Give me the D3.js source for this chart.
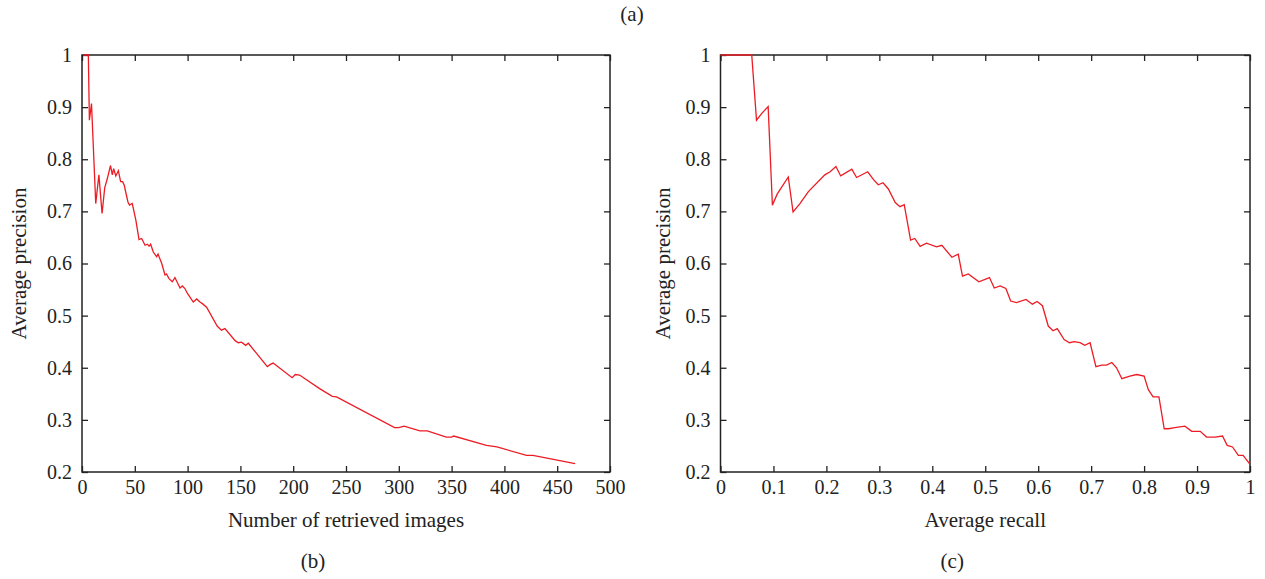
<html>
  <head>
    <meta charset="UTF-8">
    <title>Average precision</title>
    <style type="text/css">
      body {
        margin: 0;
        background-color: #fff;
      }
      svg {
        display: block;
        background-color: #fff;
      }
      .frame {
        fill: none;
        stroke: #222;
        stroke-width: 1.5px;
      }
      .axis line {
        stroke: #222;
        stroke-width: 1.3px;
      }
      .axis path {
        display: none;
      }
      .axis text, .label {
        font-family: "Liberation Serif", "DejaVu Serif", serif;
        font-size: 20px;
        fill: #222;
      }
      .label {
        font-size: 21px;
      }
      .curve {
        fill: none;
        stroke: #ec1c24;
        stroke-width: 1.3px;
      }
    </style>
    <script src="https://cdn.jsdelivr.net/npm/d3@7"></script>
  </head>
  <body>
    <div id="chart"></div>

    <script type="text/javascript">
      // (b) precision vs number of retrieved images
      var retrieved = [1, 6, 7, 9, 13, 16, 19, 21.5, 24, 27, 28.7, 30, 32, 34.4, 36.6, 38.5, 40, 43.5, 45, 47.6,
        51, 54, 56.5, 59.7, 62, 63.5, 65, 67.5, 70.7, 72, 75.5, 78.6, 80, 82.4, 85.5, 88, 92.8, 95, 97.5, 99.7,
        105.4, 108.6, 111.7, 114, 118, 128, 132, 135.4, 145, 148, 151, 155, 157.5, 175.5, 178, 181, 199, 202, 206,
        225, 237, 241, 296, 300, 305, 320, 327, 345, 350, 352, 383, 393, 421, 427, 467];
      var precisionB = [1, 1, 0.875, 0.907, 0.715, 0.770, 0.696, 0.745, 0.763, 0.788, 0.770, 0.782, 0.768, 0.778, 0.757, 0.757, 0.750, 0.718, 0.712, 0.715,
        0.683, 0.646, 0.648, 0.635, 0.637, 0.633, 0.637, 0.622, 0.613, 0.618, 0.600, 0.578, 0.580, 0.571, 0.565, 0.573, 0.553, 0.557, 0.552, 0.543,
        0.526, 0.532, 0.526, 0.523, 0.516, 0.480, 0.472, 0.475, 0.452, 0.448, 0.449, 0.443, 0.447, 0.402, 0.406, 0.409, 0.381, 0.387, 0.386,
        0.360, 0.345, 0.344, 0.285, 0.285, 0.288, 0.279, 0.279, 0.267, 0.267, 0.269, 0.251, 0.248, 0.232, 0.232, 0.216];

      // (c) precision vs recall
      var recall = [0, 0.059, 0.068, 0.078, 0.090, 0.098, 0.107, 0.128, 0.137, 0.150, 0.166, 0.197, 0.207, 0.218, 0.227, 0.248, 0.257, 0.278,
        0.289, 0.298, 0.307, 0.317, 0.330, 0.339, 0.347, 0.359, 0.367, 0.377, 0.389, 0.408, 0.418, 0.437, 0.449, 0.457, 0.468, 0.488,
        0.508, 0.517, 0.528, 0.539, 0.548, 0.559, 0.577, 0.589, 0.598, 0.608, 0.619, 0.628, 0.636, 0.649, 0.659, 0.668, 0.679, 0.688,
        0.698, 0.709, 0.720, 0.729, 0.739, 0.748, 0.758, 0.773, 0.786, 0.800, 0.808, 0.817, 0.828, 0.838, 0.846, 0.858, 0.877, 0.890,
        0.906, 0.918, 0.934, 0.948, 0.957, 0.967, 0.978, 0.987, 0.999];
      var precisionC = [1, 1, 0.875, 0.888, 0.901, 0.712, 0.733, 0.766, 0.699, 0.715, 0.738, 0.770, 0.776, 0.786, 0.768, 0.781, 0.765, 0.776,
        0.761, 0.751, 0.755, 0.743, 0.717, 0.709, 0.713, 0.645, 0.648, 0.633, 0.639, 0.632, 0.635, 0.612, 0.618, 0.576, 0.580, 0.565,
        0.573, 0.553, 0.557, 0.552, 0.528, 0.525, 0.531, 0.522, 0.527, 0.519, 0.480, 0.471, 0.475, 0.454, 0.448, 0.450, 0.448, 0.443,
        0.448, 0.402, 0.405, 0.405, 0.410, 0.400, 0.379, 0.384, 0.387, 0.384, 0.358, 0.344, 0.344, 0.283, 0.283, 0.285, 0.288, 0.278,
        0.278, 0.267, 0.267, 0.269, 0.251, 0.248, 0.232, 0.232, 0.216];

      var ticksB = [0, 50, 100, 150, 200, 250, 300, 350, 400, 450, 500];
      var ticksC = [0, 0.1, 0.2, 0.3, 0.4, 0.5, 0.6, 0.7, 0.8, 0.9, 1];
      var ticksY = [0.2, 0.3, 0.4, 0.5, 0.6, 0.7, 0.8, 0.9, 1];

      var width = 1265, height = 579;
      var plotTop = 55, plotBottom = 472;

      var svg = d3.select("#chart")
        .append("svg")
        .attr("width", width)
        .attr("height", height);

      function panel(left, right, xMax, xTicks, xs, ys, xTitle, tag, yTitleX) {
        var xScale = d3.scaleLinear().domain([0, xMax]).range([left, right]);
        var yScale = d3.scaleLinear().domain([0.2, 1]).range([plotBottom, plotTop]);
        var fmt = function(d) { return String(d); };

        svg.append("rect").attr("class", "frame")
          .attr("x", left).attr("y", plotTop)
          .attr("width", right - left).attr("height", plotBottom - plotTop);

        // ticks point inward on all four sides, labels only bottom/left
        svg.append("g").attr("class", "axis")
          .attr("transform", "translate(0," + plotBottom + ")")
          .call(d3.axisBottom(xScale).tickValues(xTicks).tickFormat(fmt).tickSizeInner(-6).tickSizeOuter(0).tickPadding(8));
        svg.append("g").attr("class", "axis")
          .attr("transform", "translate(0," + plotTop + ")")
          .call(d3.axisTop(xScale).tickValues(xTicks).tickFormat("").tickSizeInner(-6).tickSizeOuter(0));
        svg.append("g").attr("class", "axis")
          .attr("transform", "translate(" + left + ",0)")
          .call(d3.axisLeft(yScale).tickValues(ticksY).tickFormat(fmt).tickSizeInner(-6).tickSizeOuter(0).tickPadding(10));
        svg.append("g").attr("class", "axis")
          .attr("transform", "translate(" + right + ",0)")
          .call(d3.axisRight(yScale).tickValues(ticksY).tickFormat("").tickSizeInner(-6).tickSizeOuter(0));

        var line = d3.line()
          .x(function(d) { return xScale(d[0]); })
          .y(function(d) { return yScale(d[1]); });

        svg.append("path").attr("class", "curve")
          .attr("d", line(d3.zip(xs, ys)));

        var mid = (left + right) / 2;
        svg.append("text").attr("class", "label")
          .attr("x", mid).attr("y", 527)
          .attr("text-anchor", "middle").text(xTitle);
        svg.append("text").attr("class", "label")
          .attr("transform", "translate(" + yTitleX + "," + ((plotTop + plotBottom) / 2) + ") rotate(-90)")
          .attr("text-anchor", "middle").text("Average precision");
        svg.append("text").attr("class", "label")
          .attr("x", mid - 33).attr("y", 568)
          .attr("text-anchor", "middle").text(tag);
      }

      panel(82, 610, 500, ticksB, retrieved, precisionB, "Number of retrieved images", "(b)", 26);
      panel(720.5, 1250, 1, ticksC, recall, precisionC, "Average recall", "(c)", 670);

      svg.append("text").attr("class", "label")
        .attr("x", 632).attr("y", 21)
        .attr("text-anchor", "middle").text("(a)");
    </script>
  </body>
</html>
